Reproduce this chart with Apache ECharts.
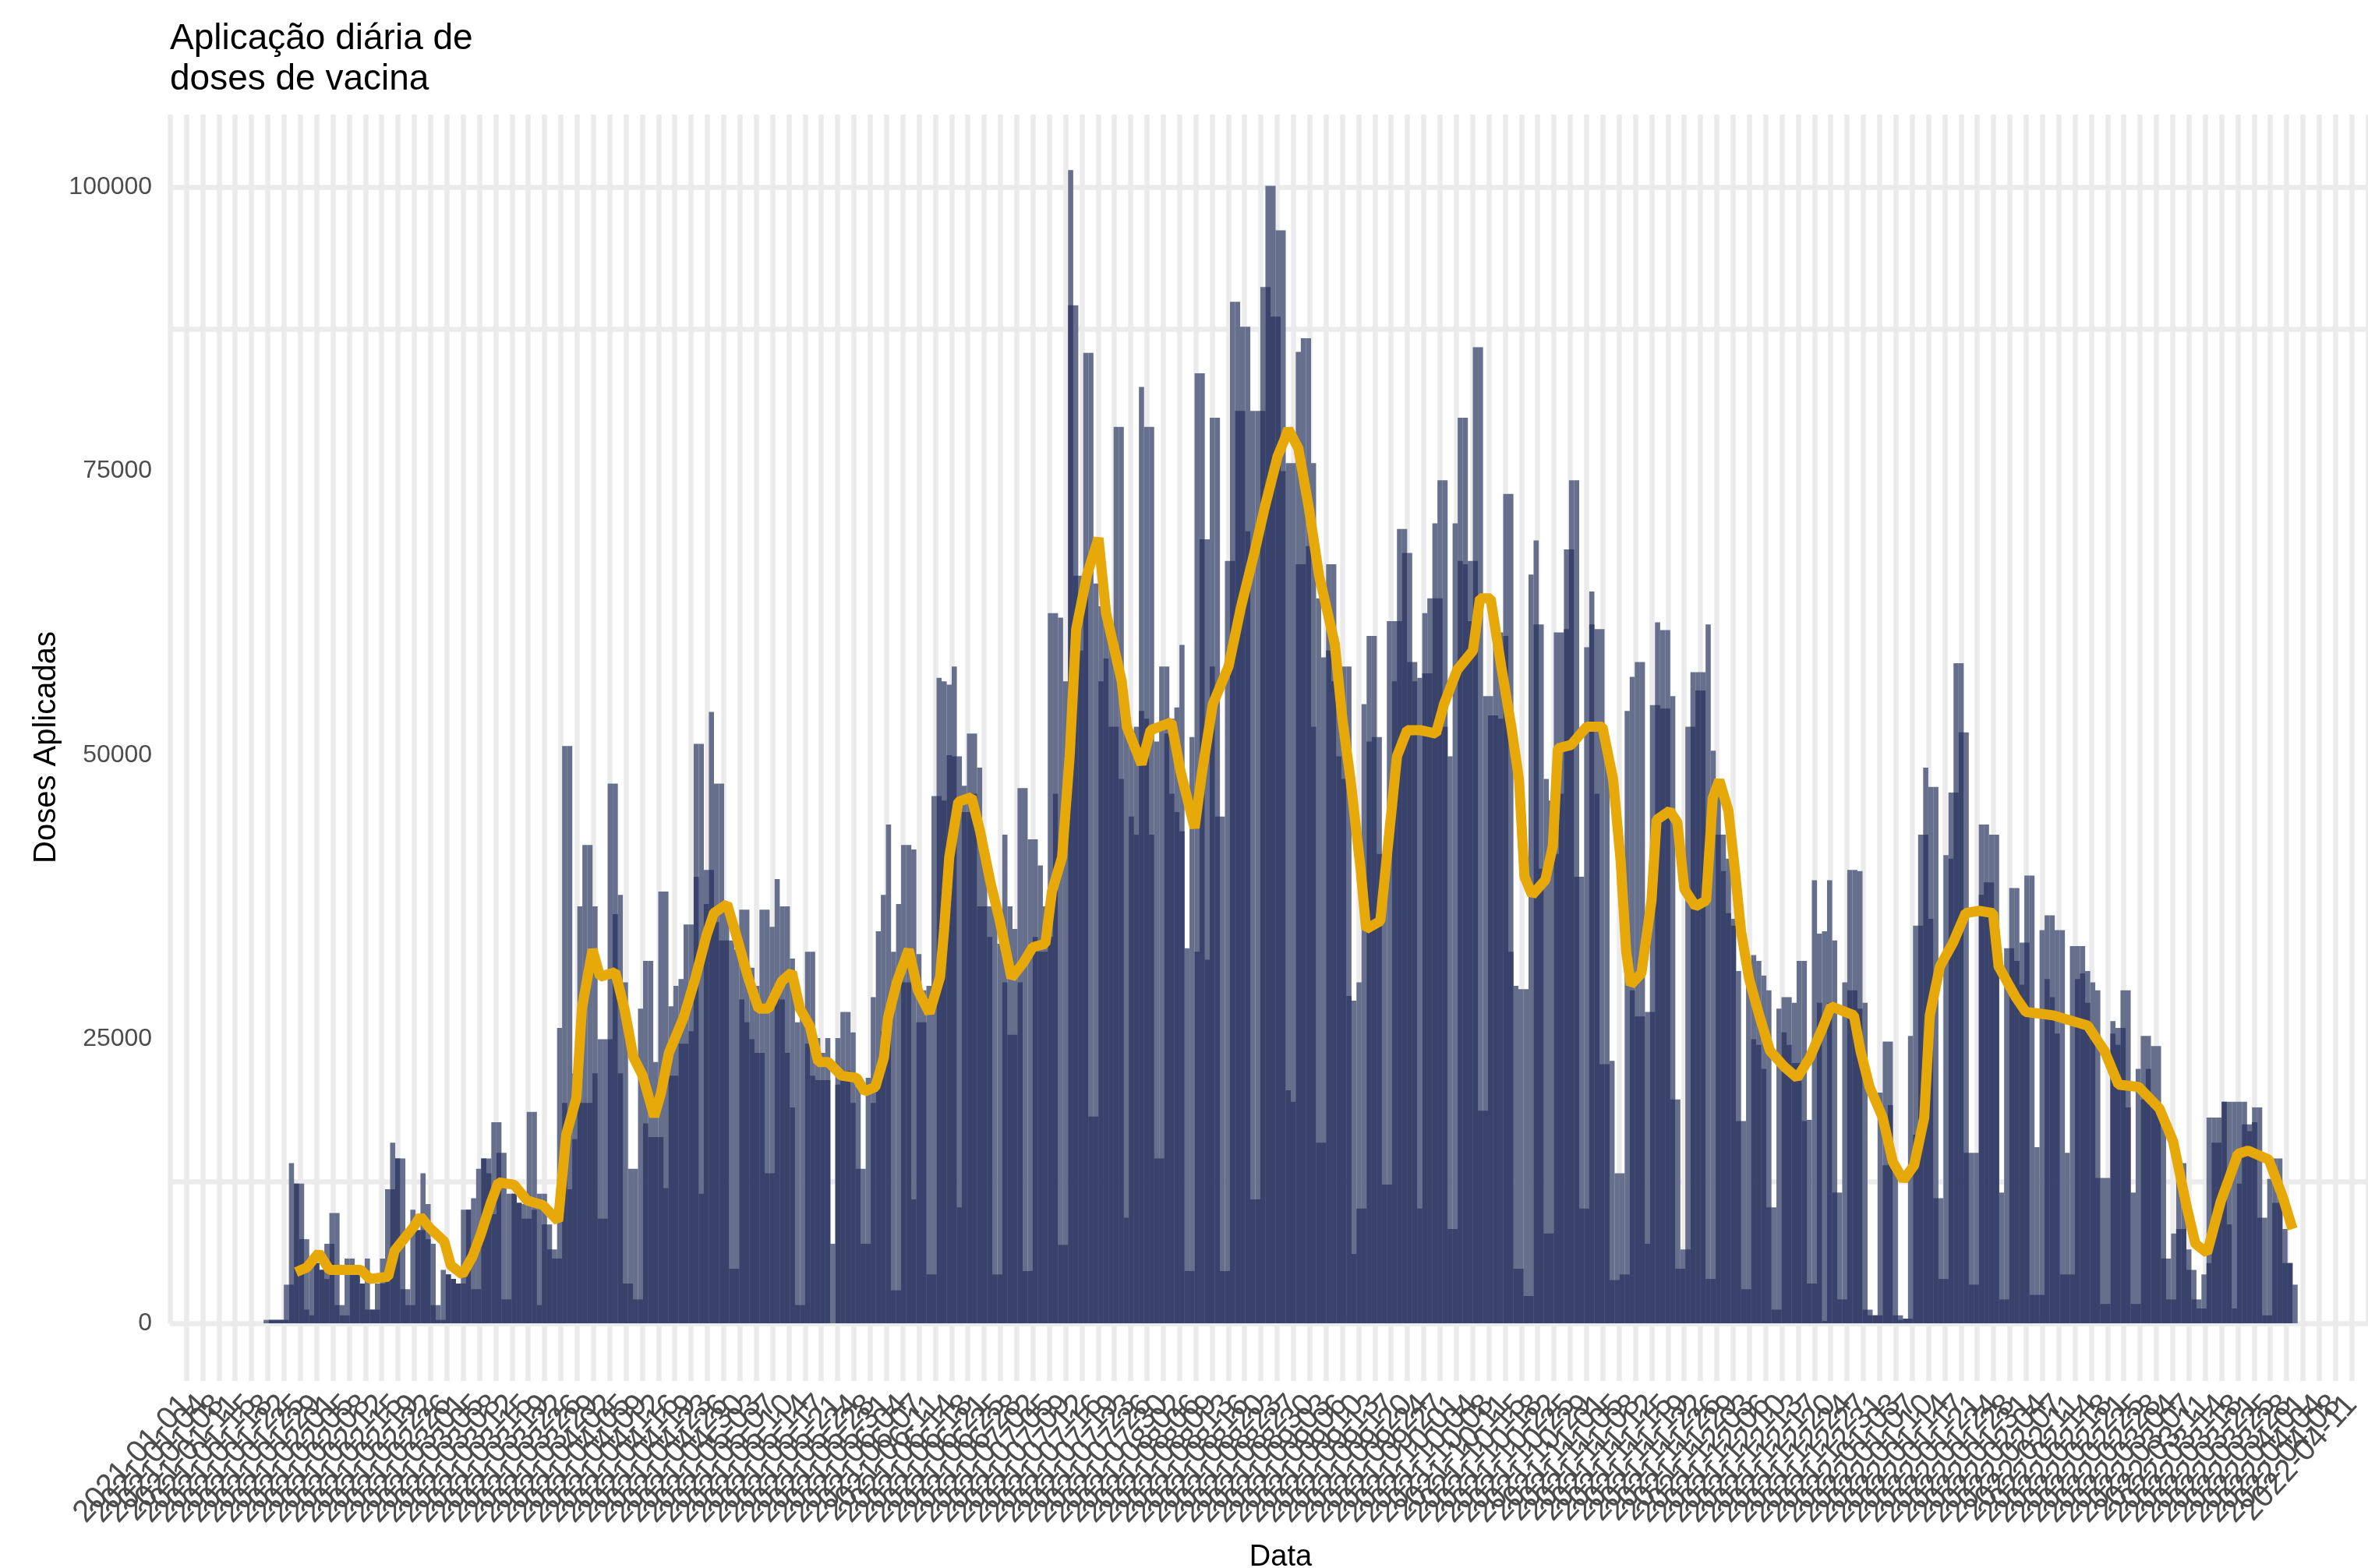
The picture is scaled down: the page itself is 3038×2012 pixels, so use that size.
<!DOCTYPE html>
<html>
<head>
<meta charset="utf-8">
<style>html,body{margin:0;padding:0;background:#fff}#chart{width:3038px;height:2012px}</style>
<script src="https://cdn.jsdelivr.net/npm/echarts@6/dist/echarts.min.js"></script>
</head>
<body>
<div id="chart"></div>
<script>
// Visible top of each daily column, in thousands of doses
const columnTop = [
0.3,0.3,0.3,0.3,3.4,14.1,12.3,12.3,7.4,5.5,5.3,4.7,7,9.7,9.7,1.6,5.7,5.7,4.3,3.5,
5.7,1.2,3.5,5.7,11.8,15.9,14.5,14.5,3,10,8.2,13.2,10.5,7,1.6,4.7,4.3,3.9,3.5,10,
10,11,13.6,14.5,14.5,17.7,17.7,15,11.4,11.4,10.6,10.5,18.6,18.6,11.4,11.4,8.7,6.5,26,50.8,
50.8,22,36.7,42.1,42.1,36.7,25,25,47.5,47.5,37.7,30,13.6,13.6,27.7,31.9,31.9,23,38,38,
27.9,29.7,30.3,35.1,35.1,51,51,39.9,53.8,47.5,47.5,36.9,33.7,32.9,36.4,36.4,31.3,29.7,36.4,36.4,
34.9,39.1,36.7,36.7,32.1,26.5,27.5,32.7,32.7,25.1,23.8,25.1,7,25.1,27.4,27.4,25.6,20.8,13.6,21.6,
28.7,34.5,37.7,43.9,32.7,36.9,42.1,42.1,41.7,32.5,29.3,29.7,46.4,56.8,56.5,56.2,57.8,49.9,47.3,51.9,
51.9,48.9,42,36.7,38,33.4,43,36.7,34.7,47.1,47.1,42.6,42.6,40.3,36.7,62.5,62.5,62.1,56.5,101.5,
89.6,65.8,85.4,85.4,65.1,63.1,63.5,60.5,78.9,78.9,51.9,51.9,52.5,82.4,78.9,78.9,51.2,57.8,57.8,53.2,
54.2,59.7,33,51.6,83.6,83.6,69,79.7,79.7,44.6,67.1,89.9,89.9,87.7,87.7,80.3,80.3,91.2,100.1,100.1,
96.2,96.2,75.7,75.7,85.5,86.7,86.7,75.7,63.8,58.6,66.8,66.8,57.8,57.8,57.8,28.4,30,54.5,60.5,60.5,
51.6,41.3,61.8,61.8,69.9,69.9,67.8,58.2,56.8,62.5,63.8,70.4,74.2,74.2,49.9,70.4,79.7,79.7,67.1,85.9,
85.9,55.2,55.2,61.8,60.8,73,73,29.7,29.4,29.4,65.9,68.9,61.5,47.9,46,60.8,60.8,68.1,74.2,74.2,
39.3,59.5,64.4,61.1,61.1,51.2,23.1,13.2,13.2,53.9,56.9,58.2,58.2,27.4,54.4,61.7,61,61,55.2,19.7,
6.5,52.5,57.3,57.3,57.3,61.5,50.4,47.2,43,40.9,35.6,31,17.8,31.4,32.4,31.9,30.6,29.3,10.2,27.7,
28.7,28.7,28.2,31.9,31.9,17.9,39,34.3,34.5,39,33.7,11.5,30,39.9,39.9,39.8,28.2,1.2,0.7,20.3,
24.8,24.8,13.4,0.7,0.4,25.3,35,43,48.9,47.2,47.2,11,41.2,46.7,58.1,58.1,52,15,15,43.9,
43.9,43,43,11.5,33,38.3,38.3,33.5,39.4,39.4,15.5,34.6,35.9,35.9,34.6,34.6,15,33.2,33.2,33.2,
31,30,29.3,12.8,12.8,26.6,26,29.3,29.3,11.5,22.4,25.3,25.3,24.4,24.4,17.3,5.7,7.9,14.2,14.1,
6.5,4.7,2.1,4.3,18.1,18.1,18.1,19.5,19.5,19.5,19.5,19.5,17.5,19,19,9.3,12.7,14.5,14.5,8.3,
5.3,3.4];
// Height up to which each column is solid dark, in thousands of doses
const columnSolid = [
0,0.3,0.3,0.3,0.3,3.4,12.3,7.4,1.2,0.7,5.3,4.7,3.9,7,1.6,0.7,0.7,4.3,4.3,3.5,
1.2,1.2,1.2,3.5,3.9,11.8,14.5,3,1.6,1.6,8.2,8.2,7.4,1.6,0.3,0.3,4.3,3.9,3.5,3.5,
10,3,3,14.5,13.2,9.6,15,2.1,2.1,11.4,10.6,9.2,9.2,10,1.6,8.7,6.5,5.7,5.7,19.4,
11.8,16.2,19.4,19.4,19.4,22,9.2,9.2,25,36,22,3.5,3.5,2.1,2.1,17.6,16.4,16.4,16.4,11.9,
21.8,21.8,24.6,24.6,25.7,39.3,11.4,36.9,39.9,35.3,33.7,33.7,4.8,4.8,28.5,26.5,25,23.8,23.8,13.2,
13.2,28.9,28.5,23.8,19,1.6,1.6,24.6,21.8,21.4,21.4,21.4,0,21,22.2,22.2,19.4,13.6,7,7,
19.4,21.8,25.7,26.5,2.9,2.9,30,30,10.9,26.5,26.5,4.3,4.3,46.4,46,50,49.9,10.2,45,45,
46.6,36.7,36.7,34,4.3,4.3,30,25.4,25.4,30,4.6,4.6,34,32.7,32.7,34,46.6,6.9,6.9,89.6,
65.8,59.2,65.8,18.2,18.2,56.5,58.5,52.5,52.5,47.9,9.3,44.6,43,53.9,53.2,43,14.5,14.5,51.9,46.6,
45,43.3,4.6,4.6,32.7,69,32,57.8,44.6,4.6,4.6,67.1,80.3,80.3,69.7,10.9,10.9,80.3,91.2,88.6,
88.6,75,20.5,19.5,66.8,66.8,68.4,52.5,15.9,15.9,59.2,56.5,49.9,47.9,28.8,6.1,10.1,10.1,51.2,51.6,
41.3,12.2,12.2,56.5,61.8,67.8,58.2,56.5,10.1,57.2,57.2,63.8,63.8,52.5,8.3,8.3,67.1,66.8,61.8,67.1,
18.7,18.7,53.5,53.5,53.2,60.5,32.7,4.8,4.8,2.4,2.4,61.5,40,7.9,7.9,41.3,46.6,61.1,68.1,39.3,
10.1,10.1,61.5,46.6,22.8,22.8,3.8,3.8,4.3,4.3,29.3,27,27,7,27.4,54.4,54.1,54.1,19.7,4.8,
4.8,6.5,52.5,55.7,55.7,3.9,3.9,43,39.8,36.1,35,17.8,3,3,25,24.5,22.4,10.2,1.2,1.2,
25.6,24.5,22.9,22.9,17.8,3.5,3.5,28.2,0.2,28.2,11.5,2.1,2.1,29.3,29.3,27.7,1.2,0.7,0.7,0.7,
13.9,19.2,0.7,0.3,0.4,0.4,16.6,35,43,35.6,11,3.9,3.9,40.9,46.7,52,15,3.4,3.4,37.7,
38.8,38.8,34,2.1,2.1,33,31.9,29.8,33.5,2.5,2.5,2.5,30.3,28.7,25.5,4.3,4.3,4.3,30.3,30.8,
28.2,25,12.8,1.7,1.7,25.5,24.5,26,19,1.7,1.7,19.7,22.4,19.2,18.7,5.7,2.1,2.1,8.3,8.3,
4.7,2.1,1.3,1.3,5.3,15.9,15.9,19.5,8.7,1.3,12.3,17.5,16.9,17.7,9.3,0.7,0.7,10.6,10.6,5.3,
5.3,0];
// Moving-average line: column position and value (thousands of doses)
const lineColumn = [6.4,8.5,10.9,13,19.2,21,24.6,25.9,29.5,31,32.8,35.7,37,39.3,41.3,42.9,44.9,46.4,49.5,52.1,55.2,58.2,59.8,61.8,62.9,65,66.5,
69.5,71.3,73.1,74.9,77.2,78.5,80.1,83,85.4,87.5,89,91.6,93.7,95.7,97.8,99.8,102.4,104.4,106,108,109.6,111.6,114.2,117.2,118.8,120.9,122.6,123.4,125.2,127.5,129.3,131.6,133.7,
134.5,135.5,137.3,139.9,141.6,143.7,145.5,147.8,150.1,152,154.5,155.8,157.8,159.3,160.6,162.7,165,166.5,169.6,170.6,173.5,175.3,179.4,181.2,184,185.5,187.6,190.7,193.2,195.8,197.8,200.4,201.7,
202.5,204.5,206.6,208.6,211.7,213.2,214.8,216.8,217.9,220.7,222.5,224,226,228.6,231.7,233.3,235.9,239,240.4,242.5,244.6,246.6,248.1,249.2,250.7,253.3,254.8,255.8,258.4,261.5,264.6,266.7,268.2,269.3,
270.2,272.3,274.3,275.3,277.9,279.4,280.8,283,285.1,286.4,287.7,289.5,290.8,292,293.6,295.6,297.7,300.5,303.1,305.6,308.2,309.8,314.3,315.6,317.4,320,322,324.1,326.2,328.2,329.3,331.3,333.9,336.4,
339,341.8,342.9,346.3,348.3,353.7,360.5,363.8,366.6,370.6,374.7,377.4,380.1,381.8,384.1,386.8,390.2,392.2,396.3,399,401];
const lineValue = [4.5,4.9,6.2,4.7,4.7,3.9,4.1,6.4,8.4,9.4,8.4,7.2,5.1,4.3,5.9,7.8,10.6,12.4,12.2,10.8,10.4,9,16.6,19.8,27.7,32.9,30.5,
30.9,27.7,23.4,21.8,18.2,20.2,23.8,26.9,30.5,34.1,36.1,36.9,33.7,30.5,27.7,27.7,30.1,30.9,27.7,26.1,23,23,21.8,21.6,20.4,20.8,23.4,26.9,30.1,32.9,29.3,27.3,30.5,
34.7,41,45.9,46.3,43.3,38.7,35.4,30.4,31.7,33.1,33.4,38,41,49.9,61.1,65.8,69.1,62.5,56.5,52.5,49.2,52.2,52.9,48.6,43.6,48.6,54.5,57.8,63.1,67.8,71.7,76.3,77.7,
78.7,77,71.7,65.8,59.8,53.2,47.9,40,34.7,35.4,43.3,49.9,52.2,52.2,51.9,54.5,57.5,59.2,63.8,63.8,57.8,52.5,47.9,39.3,37.7,39,42,50.6,50.9,52.5,52.5,47.9,40.7,32.7,
29.8,30.8,37.2,44.3,45.1,44.1,38.2,36.7,37.2,46.2,47.8,45.1,39.8,34.5,30.3,27.1,24,22.6,21.6,23.4,26.1,27.9,27.1,24,20.8,18.1,14.2,12.6,13.9,18.1,27.1,31.4,33.5,36.1,
36.3,36.1,31.4,28.7,27.4,27.1,26.2,24,21,20.8,18.9,16,10.2,7,6.2,10.7,14.9,15.2,14.4,11.2,8.3];
// Axis text
const yTickLabels = {0:'0',25000:'25000',50000:'50000',75000:'75000',100000:'100000'};
const firstTickDate = '2020-12-28';
const daysPerTick = 3.5;
const titleText = 'Aplicação diária de\ndoses de vacina';
const xName = 'Data';
const yName = 'Doses Aplicadas';

// Layout
const BLOCK = 6.495, TICK = 20.9, GRID_LEFT = 218.15, FIRST_X = 19, TOP_Y = 147, ZERO_Y = 1698, BOTTOM_Y = 1772;
const xInterval = TICK / BLOCK;
const xMax = 135 * xInterval;
const PX_PER_UNIT = 0.01458;
const yMax = (ZERO_Y - TOP_Y) / PX_PER_UNIT;

const toBar = arr => arr.map((k, i) => [FIRST_X + i, k * 1000]);
const lineData = lineColumn.map((c, i) => [FIRST_X - 0.5 + c, lineValue[i] * 1000]);
const tickDate = v => {
  const k = Math.round(v / xInterval);
  const d = new Date(Date.parse(firstTickDate + 'T00:00:00Z') + Math.round(k * daysPerTick) * 864e5);
  return d.toISOString().slice(0, 10);
};
const GRID = '#ebebeb';
const chart = echarts.init(document.getElementById('chart'), null, {renderer: 'canvas', width: 3038, height: 2012});
chart.setOption({
  animation: false,
  backgroundColor: '#ffffff',
  textStyle: {fontFamily: '"Liberation Sans", Arial, sans-serif'},
  title: {text: titleText, left: 213, top: 19, textStyle: {fontSize: 46, fontWeight: 'normal', color: '#000', lineHeight: 52, fontFamily: '"Liberation Sans", Arial, sans-serif'}},
  grid: {left: GRID_LEFT, top: TOP_Y, width: xMax * BLOCK, height: ZERO_Y - TOP_Y, containLabel: false},
  xAxis: {
    type: 'value', min: 0, max: xMax, interval: xInterval,
    axisLine: {show: false},
    axisTick: {show: true, length: BOTTOM_Y - ZERO_Y, lineStyle: {color: GRID, width: 6.5}},
    splitLine: {show: true, lineStyle: {color: GRID, width: 6.5}},
    axisLabel: {show: true, rotate: 48, margin: 98, fontSize: 40, color: '#4d4d4d', formatter: tickDate, hideOverlap: false}
  },
  yAxis: {
    type: 'value', min: 0, max: yMax, interval: 12500,
    axisLine: {show: false}, axisTick: {show: false},
    splitLine: {show: true, showMaxLine: false, lineStyle: {width: 6.5, color: [GRID, GRID, 'transparent', 'transparent', 'transparent', 'transparent', 'transparent', GRID, GRID, 'transparent']}},
    axisLabel: {margin: 23, fontSize: 32, color: '#4d4d4d', showMaxLabel: false, formatter: v => yTickLabels[v] !== undefined ? yTickLabels[v] : ''}
  },
  graphic: [
    {type: 'text', x: 60, y: 959, rotation: Math.PI / 2, style: {text: yName, fontSize: 40, fill: '#000', textAlign: 'center', textVerticalAlign: 'middle', fontFamily: '"Liberation Sans", Arial, sans-serif'}},
    {type: 'text', x: 1643, y: 1999, style: {text: xName, fontSize: 38, fill: '#000', textAlign: 'center', textVerticalAlign: 'middle', fontFamily: '"Liberation Sans", Arial, sans-serif'}}
  ],
  series: [
    {name: 'Doses (borda)', type: 'bar', data: toBar(columnTop), barWidth: 6.6, barGap: '-100%', itemStyle: {color: '#66708c'}, z: 2},
    {name: 'Doses aplicadas', type: 'bar', data: toBar(columnSolid), barWidth: 6.6, barGap: '-100%', itemStyle: {color: '#38426a'}, z: 3},
    {name: 'Média móvel', type: 'line', data: lineData, showSymbol: false, symbol: 'none', lineStyle: {color: '#e6a909', width: 13}, z: 4}
  ]
});
</script>
</body>
</html>
